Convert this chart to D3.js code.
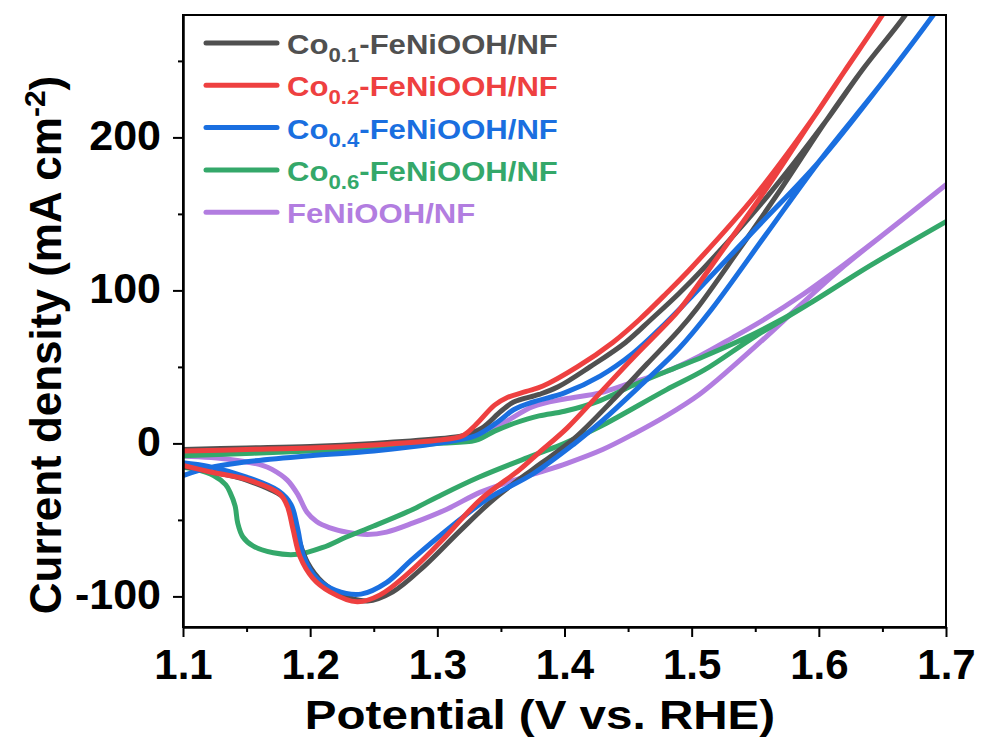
<!DOCTYPE html>
<html>
<head>
<meta charset="utf-8">
<script src="https://cdn.jsdelivr.net/npm/d3@7"></script>
<style>
  body { margin: 0; background: #fff; }
  text { font-family: "Liberation Sans", Arial, sans-serif; font-weight: bold; }
</style>
</head>
<body>
<svg id="chart" width="982" height="738"></svg>
<script>
// CV data: [potential (V vs RHE), current density (mA cm-2)]
// each curve = anodic (forward) scan then cathodic (reverse) scan
var co01 = [[1.10,-4],[1.15,-3],[1.20,-2],[1.25,0],[1.30,3],[1.32,5],[1.335,10],[1.35,21],[1.36,27],[1.38,32],[1.395,37],[1.42,50],[1.448,66],[1.468,81],[1.49,98],[1.51,115],[1.56,162],[1.605,210],[1.635,245],[1.668,280],[1.68,296],
  [1.668,280],[1.635,245],[1.605,210],[1.57,166],[1.535,124],[1.504,88],[1.49,74],[1.465,52],[1.44,30],[1.41,5],[1.39,-8],[1.375,-17],[1.345,-36],[1.318,-57],[1.29,-80],[1.265,-97],[1.245,-103],[1.225,-99],[1.21,-91],[1.198,-78],[1.19,-60],[1.185,-45],[1.18,-36],[1.15,-24],[1.125,-19],[1.10,-15]];
var co02 = [[1.10,-5],[1.15,-4],[1.20,-3],[1.25,-1],[1.30,2],[1.32,5],[1.33,12],[1.345,25],[1.355,30],[1.37,34],[1.383,37.5],[1.41,50],[1.438,66],[1.459,81],[1.48,98],[1.50,115],[1.55,162],[1.595,212],[1.62,243],[1.65,280],[1.66,294],
  [1.65,280],[1.62,243],[1.595,212],[1.56,168],[1.525,127],[1.491,88],[1.48,78],[1.454,56],[1.428,33],[1.402,10],[1.38,-6],[1.365,-17],[1.3335,-37],[1.3075,-60],[1.281,-82],[1.255,-99],[1.237,-103.5],[1.2156,-97],[1.202,-88],[1.192,-74],[1.1865,-56],[1.182,-41],[1.176,-33],[1.15,-23.5],[1.1236,-19],[1.10,-14.4]];
var co04 = [[1.10,-21],[1.12,-16],[1.15,-12],[1.20,-8],[1.25,-5],[1.30,0],[1.33,5],[1.349,15],[1.36,22],[1.375,27],[1.40,33],[1.428,44],[1.454,59],[1.48,79],[1.50,96],[1.55,140],[1.60,184],[1.65,236],[1.69,280],[1.70,292],
  [1.69,280],[1.65,236],[1.60,184],[1.558,136],[1.516,88],[1.49,62],[1.46,38],[1.43,15],[1.408,0],[1.375,-20],[1.34,-36],[1.31,-55],[1.28,-76],[1.26,-91],[1.24,-98.5],[1.22,-96],[1.205,-88],[1.195,-74],[1.19,-55],[1.185,-40],[1.175,-31],[1.15,-22],[1.12,-15],[1.10,-12.6]];
var co06 = [[1.10,-8],[1.20,-5],[1.25,-3],[1.30,0],[1.33,2],[1.345,8],[1.36,13],[1.38,18],[1.40,21],[1.428,28],[1.454,38],[1.48,47],[1.51,57],[1.55,72],[1.59,90],[1.64,116],[1.70,145],
  [1.64,116],[1.59,90],[1.55,70],[1.51,48],[1.48,35],[1.428,11],[1.40,0],[1.375,-8],[1.333,-22],[1.30,-35],[1.281,-43],[1.25,-54],[1.229,-61],[1.21,-68],[1.19,-72.5],[1.171,-71.5],[1.155,-67],[1.147,-61],[1.143,-52],[1.141,-41],[1.137,-32],[1.1335,-27],[1.124,-21],[1.11,-17],[1.10,-15.5]];
var fenioohNF = [[1.10,-7],[1.15,-5],[1.20,-3],[1.25,-1],[1.30,2],[1.33,4.8],[1.345,10],[1.357,15.7],[1.375,24],[1.40,29],[1.428,33],[1.454,40],[1.48,47],[1.506,57],[1.532,69],[1.559,82],[1.585,96],[1.62,117],[1.65,136],[1.70,169],
  [1.65,136],[1.62,116],[1.585,90],[1.559,70],[1.532,50],[1.506,32],[1.48,18],[1.454,6],[1.43,-4],[1.402,-13],[1.38,-19],[1.357,-25],[1.3335,-32],[1.3075,-43],[1.281,-52],[1.26,-58],[1.245,-59.5],[1.229,-58],[1.215,-55],[1.205,-51],[1.1975,-45],[1.19,-33],[1.182,-24],[1.17,-17],[1.163,-14.5],[1.137,-10.5],[1.10,-8.3]];

var seriesNames = ['Co0.1', 'Co0.2', 'Co0.4', 'Co0.6', 'FeNiOOH/NF'];
var seriesSubs = ['0.1', '0.2', '0.4', '0.6', null];
var seriesColors = ['#505050', '#ee4040', '#1a6fe0', '#34a86a', '#b27de0'];
var seriesData = [co01, co02, co04, co06, fenioohNF];

var xTicks = [1.1, 1.2, 1.3, 1.4, 1.5, 1.6, 1.7];
var xMinor = [1.15, 1.25, 1.35, 1.45, 1.55, 1.65];
var yTicks = [-100, 0, 100, 200];
var yMinor = [-50, 50, 150, 250];

var svg = d3.select('#chart');
var plotLeft = 183, plotRight = 946, plotTop = 15, plotBottom = 627;

var x = d3.scaleLinear().domain([1.1, 1.7]).range([plotLeft, plotRight]);
var y = d3.scaleLinear().domain([-120, 280]).range([plotBottom, plotTop]);

svg.append('clipPath').attr('id', 'plotclip')
  .append('rect')
  .attr('x', plotLeft).attr('y', plotTop)
  .attr('width', plotRight - plotLeft).attr('height', plotBottom - plotTop);

// curves (purple/green underneath, then blue, gray, red)
var line = d3.line()
  .x(function (d) { return x(d[0]); })
  .y(function (d) { return y(d[1]); })
  .curve(d3.curveCatmullRom.alpha(0.5));

var order = [4, 3, 0, 2, 1];
svg.append('g').attr('clip-path', 'url(#plotclip)')
  .selectAll('path')
  .data(order)
  .enter().append('path')
  .attr('d', function (i) { return line(seriesData[i]); })
  .attr('fill', 'none')
  .attr('stroke', function (i) { return seriesColors[i]; })
  .attr('stroke-width', 5)
  .attr('stroke-linejoin', 'round')
  .attr('stroke-linecap', 'round');

// frame
svg.append('rect')
  .attr('x', plotLeft).attr('y', plotTop)
  .attr('width', plotRight - plotLeft).attr('height', plotBottom - plotTop)
  .attr('fill', 'none').attr('stroke', '#000').attr('stroke-width', 2);

// axes
var xAxis = d3.axisBottom(x).tickValues(xTicks).tickSize(10).tickSizeOuter(0).tickPadding(12)
  .tickFormat(d3.format('.1f'));
var xAxisMinor = d3.axisBottom(x).tickValues(xMinor).tickSize(5).tickSizeOuter(0).tickFormat('');
var yAxis = d3.axisLeft(y).tickValues(yTicks).tickSize(10).tickSizeOuter(0).tickPadding(12)
  .tickFormat(function (d) { return String(d); });
var yAxisMinor = d3.axisLeft(y).tickValues(yMinor).tickSize(5).tickSizeOuter(0).tickFormat('');

function styleAxis(g) {
  g.select('.domain').attr('stroke-width', 2);
  g.selectAll('.tick line').attr('stroke-width', 2);
  g.selectAll('.tick text').style('font-size', '42px').attr('fill', '#000');
}

svg.append('g').attr('transform', 'translate(0,' + plotBottom + ')').call(xAxis).call(styleAxis);
svg.append('g').attr('transform', 'translate(0,' + plotBottom + ')').call(xAxisMinor).call(styleAxis);
svg.append('g').attr('transform', 'translate(' + plotLeft + ',0)').call(yAxis).call(styleAxis)
  .selectAll('.tick text').attr('dy', '0.27em').style('font-size', '43px');
svg.append('g').attr('transform', 'translate(' + plotLeft + ',0)').call(yAxisMinor).call(styleAxis);

// axis titles
svg.append('text')
  .attr('transform', 'translate(540,729) scale(1.16,1)')
  .attr('text-anchor', 'middle')
  .style('font-size', '41px')
  .text('Potential (V vs. RHE)');

var yt = svg.append('text')
  .attr('transform', 'translate(61,345) rotate(-90)')
  .attr('text-anchor', 'middle')
  .style('font-size', '44px');
yt.append('tspan').text('Current density (mA cm');
yt.append('tspan').attr('dy', '-16').style('font-size', '30px').text('-2');
yt.append('tspan').attr('dy', '16').text(')');

// legend
var legend = svg.append('g').selectAll('g')
  .data(seriesNames)
  .enter().append('g')
  .attr('transform', function (d, i) { return 'translate(0,' + (43 + i * 42.3) + ')'; });

legend.append('line')
  .attr('x1', 206).attr('x2', 277)
  .attr('stroke', function (d, i) { return seriesColors[i]; })
  .attr('stroke-width', 5)
  .attr('stroke-linecap', 'round');

var lt = legend.append('text')
  .attr('transform', 'translate(287,11) scale(1.11,1)')
  .style('font-size', '28px')
  .attr('fill', function (d, i) { return seriesColors[i]; });

lt.each(function (d, i) {
  var t = d3.select(this);
  if (seriesSubs[i]) {
    t.append('tspan').text('Co');
    t.append('tspan').attr('dy', 8).style('font-size', '20px').text(seriesSubs[i]);
    t.append('tspan').attr('dy', -8).text('-FeNiOOH/NF');
  } else {
    t.text(d);
  }
});
</script>
</body>
</html>
